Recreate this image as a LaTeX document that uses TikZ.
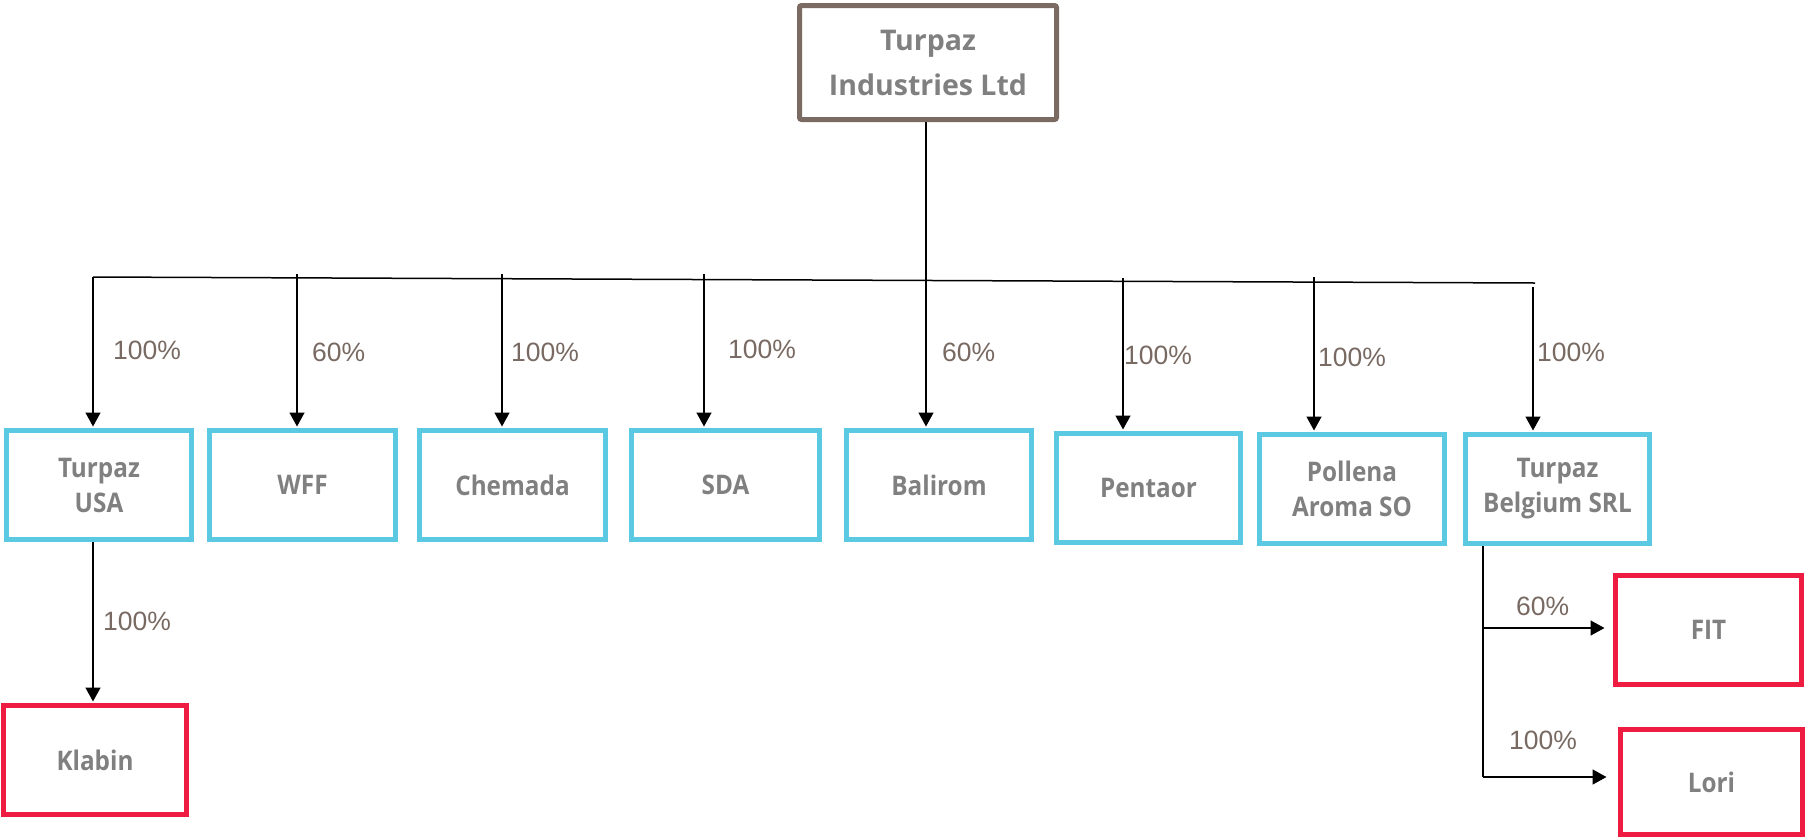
\documentclass[tikz,border=0pt]{standalone}
\usepackage{fontspec}
\setmainfont{Open Sans}
\newfontfamily\lblfont{Liberation Sans}
\newfontfamily\boxfont[FakeStretch=0.9]{Open Sans}
\usetikzlibrary{arrows.meta}
\definecolor{boxblue}{HTML}{5BC9E1}
\definecolor{boxred}{HTML}{EE1C40}
\definecolor{boxbrown}{HTML}{7A6A62}
\definecolor{txtgray}{HTML}{808080}
\definecolor{lblbrown}{HTML}{786A62}
\tikzset{
  ent/.style={draw=boxblue, line width=5pt, rectangle, inner sep=0pt, align=center,
    text=txtgray, font=\boxfont\bfseries\fontsize{27}{35}\selectfont},
  sub/.style={ent, draw=boxred},
  topent/.style={ent, draw=boxbrown, rounded corners=2pt, font=\bfseries\fontsize{28.5}{45}\selectfont},
  arr/.style={line width=1.5pt, -{Triangle[length=14pt,width=15pt]}, shorten >=1.5pt},
  conn/.style={line width=1.5pt},
  pct/.style={anchor=west, inner sep=0pt, text=lblbrown, font=\lblfont\fontsize{26.5}{30}\selectfont}
}
\begin{document}
\begin{tikzpicture}[x=1pt,y=-1pt]
\useasboundingbox (0,0) rectangle (1807,839);
% boxes
\node[topent, minimum width=257pt, minimum height=114pt] (top) at (928,62.5) {Turpaz\\Industries Ltd};
\node[ent, minimum width=185pt, minimum height=109pt] (usa) at (99,485) {Turpaz\\USA};
\node[ent, minimum width=186pt, minimum height=109pt] (wff) at (302.5,485) {WFF};
\node[ent, minimum width=186pt, minimum height=109pt] (chem) at (512.5,485) {Chemada};
\node[ent, minimum width=188pt, minimum height=109pt] (sda) at (725.5,485) {SDA};
\node[ent, minimum width=185pt, minimum height=109pt] (bal) at (939,485) {Balirom};
\node[ent, minimum width=184pt, minimum height=109pt] (pent) at (1148.5,488) {Pentaor};
\node[ent, minimum width=185pt, minimum height=109pt] (poll) at (1352,489) {Pollena\\Aroma SO};
\node[ent, minimum width=184pt, minimum height=109pt] (belg) at (1557.5,489) {Turpaz\\Belgium SRL};
\node[sub, minimum width=183pt, minimum height=109pt] (klab) at (95,760) {Klabin};
\node[sub, minimum width=186pt, minimum height=109pt] (fit) at (1708.5,630) {FIT};
\node[sub, minimum width=182pt, minimum height=105pt] (lori) at (1711.5,782) {Lori};
% bus
\coordinate (busL) at (93,277);
\coordinate (busR) at (1535,283);
\draw[conn] (busL) -- (busR);
\coordinate (sWFF) at (297,274);
\coordinate (sChem) at (502,274);
\coordinate (sSDA) at (704,274);
\coordinate (sDrop) at (926,0);
\coordinate (sPent) at (1123,278);
\coordinate (sPoll) at (1314,277);
\coordinate (sBelg) at (1533,287);
\draw[arr] (busL) -- (busL |- usa.north);
\draw[arr] (sWFF) -- (sWFF |- wff.north);
\draw[arr] (sChem) -- (sChem |- chem.north);
\draw[arr] (sSDA) -- (sSDA |- sda.north);
\draw[arr] (top.south -| sDrop) -- (bal.north -| sDrop);
\draw[arr] (sPent) -- (sPent |- pent.north);
\draw[arr] (sPoll) -- (sPoll |- poll.north);
\draw[arr] (sBelg) -- (sBelg |- belg.north);
% lower links
\draw[arr] (usa.south -| busL) -- (klab.north -| busL);
\coordinate (bx) at (1483,0);
\coordinate (fitj) at (1483,628);
\coordinate (lorij) at (1483,777);
\draw[conn] (belg.south -| bx) -- (lorij);
\draw[arr, shorten >=8.5pt] (fitj) -- (fitj -| fit.west);
\draw[arr, shorten >=11.5pt] (lorij) -- (lorij -| lori.west);
% labels
\node[pct] (l1) at (113,350) {100\%};
\node[pct] (l2) at (312,352) {60\%};
\node[pct] (l3) at (511,352) {100\%};
\node[pct] (l4) at (728,349) {100\%};
\node[pct] (l5) at (942,352) {60\%};
\node[pct] (l6) at (1124,355) {100\%};
\node[pct] (l7) at (1318,357) {100\%};
\node[pct] (l8) at (1537,352) {100\%};
\node[pct] (l9) at (103,621) {100\%};
\node[pct] (l10) at (1516,606) {60\%};
\node[pct] (l11) at (1509,740) {100\%};
\end{tikzpicture}
\end{document}
